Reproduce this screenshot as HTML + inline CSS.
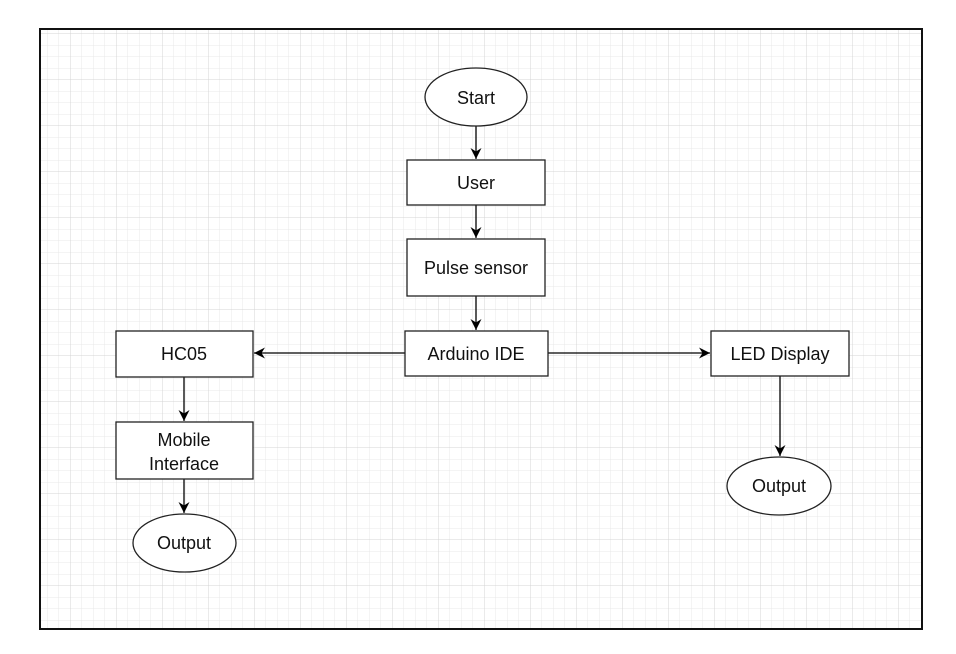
<!DOCTYPE html>
<html><head><style>
html,body{margin:0;padding:0;background:#fff;}
svg{display:block;}
text{font-family:"Liberation Sans",Arial,sans-serif;font-size:18px;fill:#111;text-anchor:middle;dominant-baseline:central;}
</style></head><body>
<svg width="956" height="654" viewBox="0 0 956 654" xmlns="http://www.w3.org/2000/svg">
<defs>
<pattern id="minor" x="70" y="33.5" width="11.5" height="11.5" patternUnits="userSpaceOnUse">
<path d="M0 0H11.5M0 0V11.5" stroke="#e9e9e9" stroke-width="1" fill="none"/>
</pattern>
<pattern id="major" x="70" y="33.5" width="46" height="46" patternUnits="userSpaceOnUse">
<path d="M0 0H46M0 0V46" stroke="#d4d4d4" stroke-width="1" fill="none"/>
</pattern>
<marker id="a" markerWidth="12" markerHeight="12" refX="11" refY="6" orient="auto" markerUnits="userSpaceOnUse">
<path d="M0 0.5L11 6L0 11.5L3.5 6Z" fill="#000"/>
</marker>
</defs>
<rect x="0" y="0" width="956" height="654" fill="#fff"/>
<rect x="40" y="29" width="882" height="600" fill="url(#minor)"/>
<rect x="40" y="29" width="882" height="600" fill="url(#major)"/>
<rect x="40" y="29" width="882" height="600" fill="none" stroke="#111" stroke-width="2"/>
<g stroke="#000" stroke-width="1.3" fill="none">
<line x1="476" y1="126" x2="476" y2="159" marker-end="url(#a)"/>
<line x1="476" y1="205" x2="476" y2="238" marker-end="url(#a)"/>
<line x1="476" y1="296" x2="476" y2="330" marker-end="url(#a)"/>
<line x1="405" y1="353" x2="254" y2="353" marker-end="url(#a)"/>
<line x1="548" y1="353" x2="710" y2="353" marker-end="url(#a)"/>
<line x1="184" y1="377" x2="184" y2="421" marker-end="url(#a)"/>
<line x1="184" y1="479" x2="184" y2="513" marker-end="url(#a)"/>
<line x1="780" y1="376" x2="780" y2="456" marker-end="url(#a)"/>
</g>
<g stroke="#222" stroke-width="1.3" fill="#fff">
<ellipse cx="476" cy="97" rx="51" ry="29"/>
<rect x="407" y="160" width="138" height="45"/>
<rect x="407" y="239" width="138" height="57"/>
<rect x="405" y="331" width="143" height="45"/>
<rect x="116" y="331" width="137" height="46"/>
<rect x="116" y="422" width="137" height="57"/>
<ellipse cx="184.5" cy="543" rx="51.5" ry="29"/>
<rect x="711" y="331" width="138" height="45"/>
<ellipse cx="779" cy="486" rx="52" ry="29"/>
</g>
<text x="476" y="98">Start</text>
<text x="476" y="183">User</text>
<text x="476" y="268">Pulse sensor</text>
<text x="476" y="354">Arduino IDE</text>
<text x="184" y="354">HC05</text>
<text x="184" y="440">Mobile</text>
<text x="184" y="464">Interface</text>
<text x="184" y="543">Output</text>
<text x="780" y="354">LED Display</text>
<text x="779" y="486">Output</text>
</svg>
</body></html>
